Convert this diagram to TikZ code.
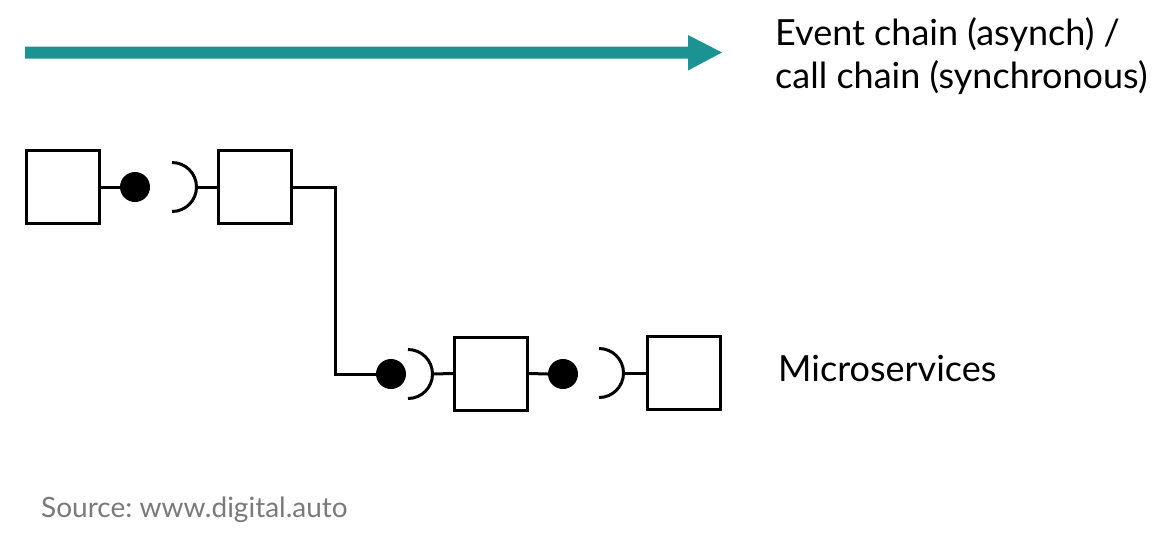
\documentclass[tikz,border=0pt]{standalone}
\usepackage{fontspec}
\setmainfont{Lato}
\definecolor{teal1}{HTML}{1B9392}
\definecolor{srcgray}{HTML}{7A7A7A}
\begin{document}
\begin{tikzpicture}[x=1pt,y=-1pt,
  svc/.style={draw,line width=3pt,minimum size=73pt,inner sep=0pt},
  dotn/.style={circle,fill=black,minimum size=30pt,inner sep=0pt},
  wire/.style={line width=3pt},
  sock/.style={line width=3pt},
  lbl/.style={font=\frenchspacing\fontsize{36}{43}\selectfont,anchor=west,align=left,inner sep=0pt}]
\useasboundingbox (0,0) rectangle (1166,539);
% arrow
\fill[teal1] (25,46.5) -- (688,46.5) -- (688,35) -- (722,52.5) -- (688,70.5) -- (688,58.5) -- (25,58.5) -- cycle;
\node[lbl] (t1) at (775,56) {Event chain (asynch) /\\call chain (synchronous)};
% upper chain
\node[svc] (b1) at (63,187) {};
\node[dotn] (d1) at (135,187) {};
\coordinate (s1) at (172,187);
\coordinate (s1r) at (196.5,187);
\node[svc] (b2) at (254.5,187) {};
% lower chain
\coordinate (k) at (335,374);
\node[dotn] (d3) at (391,374) {};
\coordinate (s3) at (408,374);
\coordinate (s3r) at (432.5,374);
\node[svc] (b3) at (491,373.5) {};
\node[dotn] (d4) at (563,374) {};
\coordinate (s4) at (599,373);
\coordinate (s4r) at (623.5,373);
\node[svc] (b4) at (684,373) {};
% sockets
\draw[sock] ([shift={(0,-24.5)}]s1) arc[start angle=-90,end angle=90,radius=24.5];
\draw[sock] ([shift={(0,-24.5)}]s3) arc[start angle=-90,end angle=90,radius=24.5];
\draw[sock] ([shift={(0,-24.5)}]s4) arc[start angle=-90,end angle=90,radius=24.5];
% wires
\draw[wire] (b1.east) -- (d1.west);
\draw[wire] (s1r) -- (b2.west);
\draw[wire] (b2.east) -| (k) -- (d3.west);
\draw[wire] (s3r) -- (b3.west);
\draw[wire] (b3.east) -- (d4.west);
\draw[wire] (s4r) -- (b4.west);
\node[lbl] (m) at (778,369) {Microservices};
\node[lbl,font=\frenchspacing\fontsize{28}{32}\selectfont,text=srcgray] (src) at (41,510) {Source: www.digital.auto};
\end{tikzpicture}
\end{document}
